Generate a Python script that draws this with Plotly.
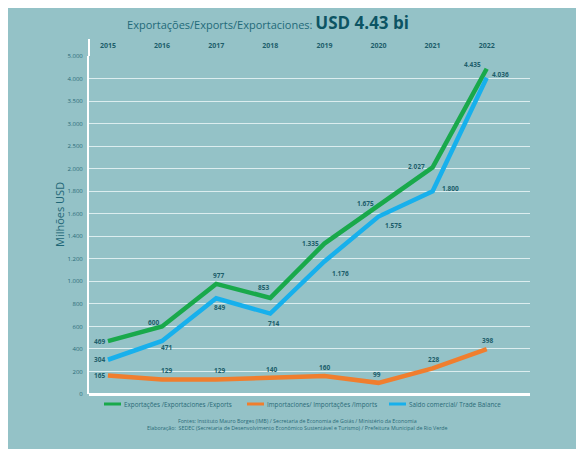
import numpy as np
import plotly.graph_objects as go

years = ["2015", "2016", "2017", "2018", "2019", "2020", "2021", "2022"]
exports = [469, 600, 977, 853, 1335, 1675, 2027, 4435]
imports = [165, 129, 129, 140, 160, 99, 228, 398]
balance = [304, 471, 849, 714, 1176, 1575, 1800, 4036]

# the original axis is piecewise: equal spacing between these tick values
tick_values = [0, 200, 400, 600, 800, 1000, 1200, 1400, 1600, 1800, 2000, 2500, 3000, 3500, 4000, 5000]
tick_labels = ["0", "200", "400", "600", "800", "1.000", "1.200", "1.400", "1.600", "1.800",
               "2.000", "2.500", "3.000", "3.500", "4.000", "5.000"]
tick_pos = list(range(len(tick_values)))

series_names = ["Exportações /Exportaciones /Exports",
                "Importaciones/ Importações /Imports",
                "Saldo comercial/ Trade Balance"]


def scale(vals):
    return np.interp(vals, tick_values, tick_pos)


def fmt(v):
    return f"{v:,}".replace(",", ".")


BG = "#94c2c7"
DARK = "#1d5e6b"
GREEN = "#19a94b"
ORANGE = "#f07e2e"
BLUE = "#17b0ec"
FONT = "Open Sans"
colors = [GREEN, ORANGE, BLUE]

OFF = 8  # page body margin offset
W, H = 584, 449
L, T = 89 - OFF, 56 - OFF
R = W - (530 - OFF)
B = H - (394 - OFF)
PW, PH = W - L - R, H - T - B


def px_x(px):
    return (px - OFF - L) / PW


def px_y(py):
    return (H - B - (py - OFF)) / PH


xidx = list(range(len(years)))

fig = go.Figure()
for name, vals, col in zip(series_names, [exports, imports, balance], colors):
    fig.add_trace(go.Scatter(x=xidx, y=scale(vals), mode="lines", name=name,
                             line=dict(color=col, width=4.5), hoverinfo="skip", showlegend=False))

# label placement styles: (xanchor, yanchor, xshift, yshift)
exp_style = [("right", "middle", -1, 0), ("right", "middle", -1, 4), ("center", "bottom", 2, 2),
             ("right", "middle", 1, 10), ("right", "middle", -3, 0), ("right", "middle", -2, 2),
             ("right", "middle", -6, 1), ("right", "middle", -4, 4)]
bal_style = [("right", "middle", -1, 0), ("center", "middle", 4, -7), ("center", "top", 3, -3),
             ("center", "top", 3, -3), ("left", "middle", 6, -12), ("left", "middle", 5, -9),
             ("left", "middle", 7, 3), ("left", "middle", 3, 3)]
imp_style = [("right", "middle", -1, 0), ("center", "bottom", 4, 2), ("center", "bottom", 3, 2),
             ("center", "bottom", 1, 2), ("center", "bottom", 0, 2), ("center", "bottom", -1, 2),
             ("center", "bottom", 1, 2), ("center", "bottom", 1, 2)]

annotations = []
for vals, styles in [(exports, exp_style), (balance, bal_style), (imports, imp_style)]:
    for xi, v, yv, st in zip(xidx, vals, scale(vals), styles):
        annotations.append(dict(x=xi, y=float(yv), xref="x", yref="y", text=fmt(v), showarrow=False,
                                xanchor=st[0], yanchor=st[1], xshift=st[2], yshift=st[3],
                                font=dict(family=FONT, size=6.5, color=DARK, weight="bold")))

annotations.append(dict(x=px_x(59), y=px_y(215), xref="paper", yref="paper", text="Milhões USD",
                        textangle=-90, showarrow=False, xanchor="center", yanchor="middle",
                        font=dict(family=FONT, size=11, color="#1f6676")))
annotations.append(dict(x=px_x(297), y=px_y(415), xref="paper", yref="paper",
                        text="Fontes: Instituto Mauro Borges (IMB) / Secretaria de Economia de Goiás / Ministério da Economia<br>"
                             "Elaboração:  SEDEC (Secretaria de Desenvolvimento Econômico Sustentável e Turismo) / Prefeitura Municipal de Rio Verde",
                        showarrow=False, xanchor="center", yanchor="top", align="center",
                        font=dict(family=FONT, size=5.3, color="#2a6b78")))

# manual legend (short line samples like the original)
shapes = []
legend_x = [104, 247, 389]
for name, col, lx in zip(series_names, colors, legend_x):
    shapes.append(dict(type="line", xref="paper", yref="paper", x0=px_x(lx), x1=px_x(lx + 17),
                       y0=px_y(404), y1=px_y(404), line=dict(color=col, width=3)))
    annotations.append(dict(x=px_x(lx + 18), y=px_y(404), xref="paper", yref="paper", text=name,
                            showarrow=False, xanchor="left", yanchor="middle",
                            font=dict(family=FONT, size=6.3, color="#2a6b78")))

# left axis line extends above the plot top (as in the original)
shapes.append(dict(type="line", xref="paper", yref="paper", x0=0, x1=0, y0=1, y1=px_y(39),
                   line=dict(color="white", width=2)))

fig.update_layout(
    width=W, height=H,
    margin=dict(l=L, r=R, t=T, b=B),
    paper_bgcolor=BG, plot_bgcolor=BG,
    title=dict(text="Exportações/Exports/Exportaciones: <b><span style='font-size:17px;color:#0c5463'>USD 4.43 bi</span></b>",
               x=(268 - OFF) / W, xanchor="center", y=1 - (25 - OFF) / H, yanchor="middle", yref="container",
               font=dict(family=FONT, size=11, color="#1f6a79")),
    xaxis=dict(range=[-0.35, 7.8], side="top", showgrid=False, tickvals=xidx, ticktext=years,
               ticks="", showline=False, zeroline=False, ticklabelstandoff=6,
               tickfont=dict(family=FONT, size=7, color=DARK, weight="bold")),
    yaxis=dict(range=[0, 15], tickvals=tick_pos, ticktext=tick_labels,
               tickfont=dict(family=FONT, size=6, color="#2a6b78"),
               showgrid=True, gridcolor="#dcedef", gridwidth=1,
               zeroline=True, zerolinecolor="white", zerolinewidth=2.5,
               showline=True, linecolor="white", linewidth=2, ticks="", ticklabelstandoff=3),
    annotations=annotations,
    shapes=shapes,
    showlegend=False,
)

fig.write_html("out.html")
